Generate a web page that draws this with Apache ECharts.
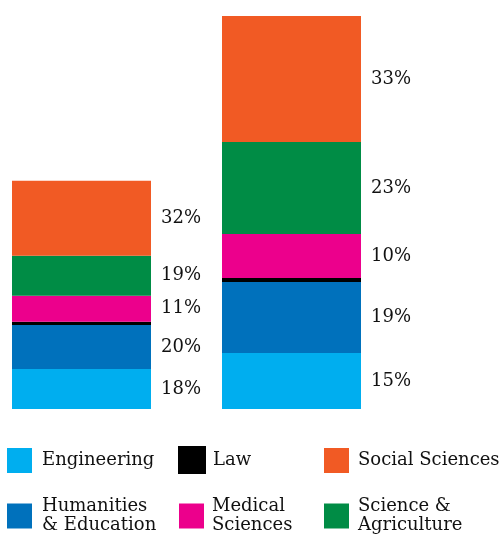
<!DOCTYPE html>
<html>
<head>
<meta charset="utf-8">
<script src="https://cdn.jsdelivr.net/npm/echarts@6/dist/echarts.min.js"></script>
<style>html,body{margin:0;padding:0;background:#fff;}#c{width:504px;height:535px;}</style>
</head>
<body>
<div id="c"></div>
<script>
// Two groups (stacked bars); heights in arbitrary units
const groups = ['A', 'B'];
const engineering = [40, 56];
const humanities  = [44, 71];
const law         = [3.3, 4];
const medical     = [26, 44];
const science     = [40, 92];
const social      = [75, 126];

// Percentage labels printed beside each segment
const engineeringPct = ['18%', '15%'];
const humanitiesPct  = ['20%', '19%'];
const lawPct         = ['', ''];
const medicalPct     = ['11%', '10%'];
const sciencePct     = ['19%', '23%'];
const socialPct      = ['32%', '33%'];

const FONT = 'DejaVu Serif';
const seriesDefs = [
  {name: 'Engineering', data: engineering, pct: engineeringPct, color: '#00AEEF'},
  {name: 'Humanities & Education', data: humanities, pct: humanitiesPct, color: '#0071BC'},
  {name: 'Law', data: law, pct: lawPct, color: '#000000'},
  {name: 'Medical Sciences', data: medical, pct: medicalPct, color: '#EC008C'},
  {name: 'Science & Agriculture', data: science, pct: sciencePct, color: '#008C45'},
  {name: 'Social Sciences', data: social, pct: socialPct, color: '#F15A24'}
];

const legendText = {
  'Engineering': 'Engineering',
  'Humanities & Education': 'Humanities\n& Education',
  'Law': 'Law',
  'Medical Sciences': 'Medical\nSciences',
  'Science & Agriculture': 'Science &\nAgriculture',
  'Social Sciences': 'Social Sciences'
};
const legendPos = [
  {name: 'Engineering', left: 7, top: 448, pad: 10, size: 25},
  {name: 'Law', left: 178, top: 446, pad: 7, size: 28},
  {name: 'Social Sciences', left: 324, top: 448, pad: 9, size: 25},
  {name: 'Humanities & Education', left: 7, top: 493, pad: 10, size: 25, multi: true},
  {name: 'Medical Sciences', left: 179, top: 493, pad: 8, size: 25, multi: true},
  {name: 'Science & Agriculture', left: 324, top: 493, pad: 9, size: 25, multi: true}
];

const chart = echarts.init(document.getElementById('c'));
chart.setOption({
  animation: false,
  backgroundColor: '#fff',
  grid: {left: 81.5, width: 210, top: 16, bottom: 126},
  xAxis: {type: 'category', data: groups, boundaryGap: false, show: false},
  yAxis: {type: 'value', min: 0, max: 393, show: false},
  legend: legendPos.map(p => ({
    data: [p.name],
    left: p.left, top: p.top, padding: 0,
    orient: 'vertical',
    icon: 'rect', itemWidth: p.size, itemHeight: p.size,
    selectedMode: false,
    formatter: n => legendText[n],
    textStyle: {
      fontFamily: FONT, fontSize: 18, color: '#111',
      lineHeight: 19,
      padding: p.multi ? [8, 0, 0, p.pad - 5] : [0, 0, 0, p.pad - 5]
    }
  })),
  series: seriesDefs.map(s => ({
    name: s.name,
    type: 'bar',
    stack: 'total',
    barWidth: 139,
    itemStyle: {color: s.color},
    data: s.data,
    label: {
      show: true,
      position: 'right',
      distance: 10,
      fontFamily: FONT, fontSize: 18, color: '#111',
      formatter: p => s.pct[p.dataIndex]
    }
  }))
});
</script>
</body>
</html>
